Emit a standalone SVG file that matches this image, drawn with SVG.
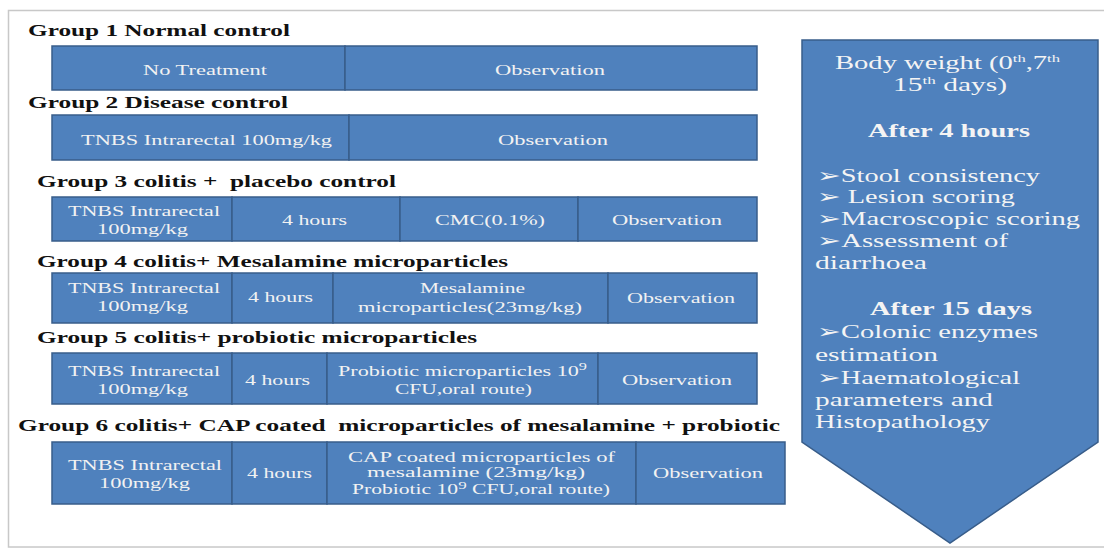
<svg xmlns="http://www.w3.org/2000/svg" width="1104" height="549" viewBox="0 0 1104 549">
<style>
.frame{fill:#ffffff;stroke:#c8c8c8;stroke-width:1.5}
.cell{fill:#4f81bd;stroke:#385d8a;stroke-width:1.5}
.hd{font-family:"Liberation Serif","Times New Roman",serif;font-weight:bold;font-size:17px;fill:#111;white-space:pre}
.ct{font-family:"Liberation Serif","Times New Roman",serif;font-size:15px;fill:#f2f2f2}
.cs{font-family:"Liberation Serif","Times New Roman",serif;font-size:14px;fill:#f2f2f2}
.at{font-family:"Liberation Serif","Times New Roman",serif;font-size:19px;fill:#f4f4f4}
.ab{font-family:"Liberation Serif","Times New Roman",serif;font-size:19px;font-weight:bold;fill:#f4f4f4}
.sup{font-size:11px}
</style>
<rect class="frame" x="8.5" y="10.5" width="1110" height="536.5"/>

<g id="group1">
<text class="hd" x="28" y="36" textLength="262" lengthAdjust="spacingAndGlyphs">Group 1 Normal control</text>
<rect class="cell" x="52" y="46" width="293" height="44"/>
<rect class="cell" x="345" y="46" width="412" height="44"/>
<text class="ct" x="143" y="75" textLength="124" lengthAdjust="spacingAndGlyphs">No Treatment</text>
<text class="ct" x="495" y="75" textLength="110" lengthAdjust="spacingAndGlyphs">Observation</text>
</g>

<g id="group2">
<text class="hd" x="28" y="108" textLength="260" lengthAdjust="spacingAndGlyphs">Group 2 Disease control</text>
<rect class="cell" x="52" y="115" width="297" height="45"/>
<rect class="cell" x="349" y="115" width="408" height="45"/>
<text class="ct" x="81" y="145" textLength="251" lengthAdjust="spacingAndGlyphs">TNBS Intrarectal 100mg/kg</text>
<text class="ct" x="498" y="145" textLength="110" lengthAdjust="spacingAndGlyphs">Observation</text>
</g>

<g id="group3">
<text class="hd" x="37" y="187" textLength="359" lengthAdjust="spacingAndGlyphs" xml:space="preserve">Group 3 colitis +  placebo control</text>
<rect class="cell" x="52" y="197" width="180" height="44"/>
<rect class="cell" x="232" y="197" width="168" height="44"/>
<rect class="cell" x="400" y="197" width="178" height="44"/>
<rect class="cell" x="578" y="197" width="179" height="44"/>
<text class="ct" x="68" y="216" textLength="152" lengthAdjust="spacingAndGlyphs">TNBS Intrarectal</text>
<text class="ct" x="97" y="234" textLength="91" lengthAdjust="spacingAndGlyphs">100mg/kg</text>
<text class="ct" x="282" y="225" textLength="65" lengthAdjust="spacingAndGlyphs">4 hours</text>
<text class="ct" x="435" y="225" textLength="110" lengthAdjust="spacingAndGlyphs">CMC(0.1%)</text>
<text class="ct" x="612" y="225" textLength="110" lengthAdjust="spacingAndGlyphs">Observation</text>
</g>

<g id="group4">
<text class="hd" x="37" y="267" textLength="471" lengthAdjust="spacingAndGlyphs">Group 4 colitis+ Mesalamine microparticles</text>
<rect class="cell" x="52" y="273" width="180" height="50"/>
<rect class="cell" x="232" y="273" width="101" height="50"/>
<rect class="cell" x="333" y="273" width="275" height="50"/>
<rect class="cell" x="608" y="273" width="149" height="50"/>
<text class="ct" x="68" y="293" textLength="152" lengthAdjust="spacingAndGlyphs">TNBS Intrarectal</text>
<text class="ct" x="97" y="311" textLength="91" lengthAdjust="spacingAndGlyphs">100mg/kg</text>
<text class="ct" x="248" y="302" textLength="65" lengthAdjust="spacingAndGlyphs">4 hours</text>
<text class="ct" x="420" y="293" textLength="105" lengthAdjust="spacingAndGlyphs">Mesalamine</text>
<text class="ct" x="358" y="312" textLength="224" lengthAdjust="spacingAndGlyphs">microparticles(23mg/kg)</text>
<text class="ct" x="627" y="303" textLength="108" lengthAdjust="spacingAndGlyphs">Observation</text>
</g>

<g id="group5">
<text class="hd" x="37" y="343" textLength="440" lengthAdjust="spacingAndGlyphs">Group 5 colitis+ probiotic microparticles</text>
<rect class="cell" x="52" y="353" width="180" height="51"/>
<rect class="cell" x="232" y="353" width="95" height="51"/>
<rect class="cell" x="327" y="353" width="271" height="51"/>
<rect class="cell" x="598" y="353" width="159" height="51"/>
<text class="ct" x="68" y="376" textLength="152" lengthAdjust="spacingAndGlyphs">TNBS Intrarectal</text>
<text class="ct" x="97" y="394" textLength="91" lengthAdjust="spacingAndGlyphs">100mg/kg</text>
<text class="ct" x="245" y="385" textLength="65" lengthAdjust="spacingAndGlyphs">4 hours</text>
<text class="ct" x="338" y="376" textLength="249" lengthAdjust="spacingAndGlyphs">Probiotic microparticles 10<tspan class="sup" dy="-6">9</tspan></text>
<text class="ct" x="395" y="394" textLength="137" lengthAdjust="spacingAndGlyphs">CFU,oral route)</text>
<text class="ct" x="622" y="385" textLength="110" lengthAdjust="spacingAndGlyphs">Observation</text>
</g>

<g id="group6">
<text class="hd" x="18" y="431" textLength="762" lengthAdjust="spacingAndGlyphs" xml:space="preserve">Group 6 colitis+ CAP coated  microparticles of mesalamine + probiotic</text>
<rect class="cell" x="52" y="442" width="180" height="62"/>
<rect class="cell" x="232" y="442" width="95" height="62"/>
<rect class="cell" x="327" y="442" width="309" height="62"/>
<rect class="cell" x="636" y="442" width="149" height="62"/>
<text class="ct" x="68" y="470" textLength="154" lengthAdjust="spacingAndGlyphs">TNBS Intrarectal</text>
<text class="ct" x="99" y="488" textLength="91" lengthAdjust="spacingAndGlyphs">100mg/kg</text>
<text class="ct" x="247" y="478" textLength="65" lengthAdjust="spacingAndGlyphs">4 hours</text>
<text class="cs" x="348" y="462" textLength="267" lengthAdjust="spacingAndGlyphs">CAP coated microparticles of</text>
<text class="cs" x="367" y="477" textLength="218" lengthAdjust="spacingAndGlyphs">mesalamine (23mg/kg)</text>
<text class="cs" x="352" y="494" textLength="258" lengthAdjust="spacingAndGlyphs">Probiotic 10<tspan class="sup" dy="-5">9</tspan><tspan dy="5"> CFU,oral route)</tspan></text>
<text class="ct" x="653" y="478" textLength="110" lengthAdjust="spacingAndGlyphs">Observation</text>
</g>

<g id="assessments">
<polygon class="cell" points="802,40 1098,40 1098,442 950,543 802,442"/>
<text class="at" x="835" y="69" textLength="225" lengthAdjust="spacingAndGlyphs">Body weight (0<tspan class="sup" dy="-7">th</tspan><tspan dy="7">,7</tspan><tspan class="sup" dy="-7">th</tspan></text>
<text class="at" x="893" y="91" textLength="114" lengthAdjust="spacingAndGlyphs">15<tspan class="sup" dy="-7">th</tspan><tspan dy="7"> days)</tspan></text>
<text class="ab" x="868" y="137" textLength="162" lengthAdjust="spacingAndGlyphs">After 4 hours</text>
<text class="at" x="817" y="182" textLength="223" lengthAdjust="spacingAndGlyphs">➢Stool consistency</text>
<text class="at" x="817" y="203" textLength="198" lengthAdjust="spacingAndGlyphs">➢ Lesion scoring</text>
<text class="at" x="817" y="225" textLength="263" lengthAdjust="spacingAndGlyphs">➢Macroscopic scoring</text>
<text class="at" x="817" y="247" textLength="191" lengthAdjust="spacingAndGlyphs">➢Assessment of</text>
<text class="at" x="815" y="269" textLength="112" lengthAdjust="spacingAndGlyphs">diarrhoea</text>
<text class="ab" x="870" y="315" textLength="162" lengthAdjust="spacingAndGlyphs">After 15 days</text>
<text class="at" x="817" y="338" textLength="221" lengthAdjust="spacingAndGlyphs">➢Colonic enzymes</text>
<text class="at" x="815" y="361" textLength="123" lengthAdjust="spacingAndGlyphs">estimation</text>
<text class="at" x="817" y="384" textLength="203" lengthAdjust="spacingAndGlyphs">➢Haematological</text>
<text class="at" x="815" y="406" textLength="178" lengthAdjust="spacingAndGlyphs">parameters and</text>
<text class="at" x="815" y="428" textLength="175" lengthAdjust="spacingAndGlyphs">Histopathology</text>
</g>
<g id="connectors"/>
</svg>
